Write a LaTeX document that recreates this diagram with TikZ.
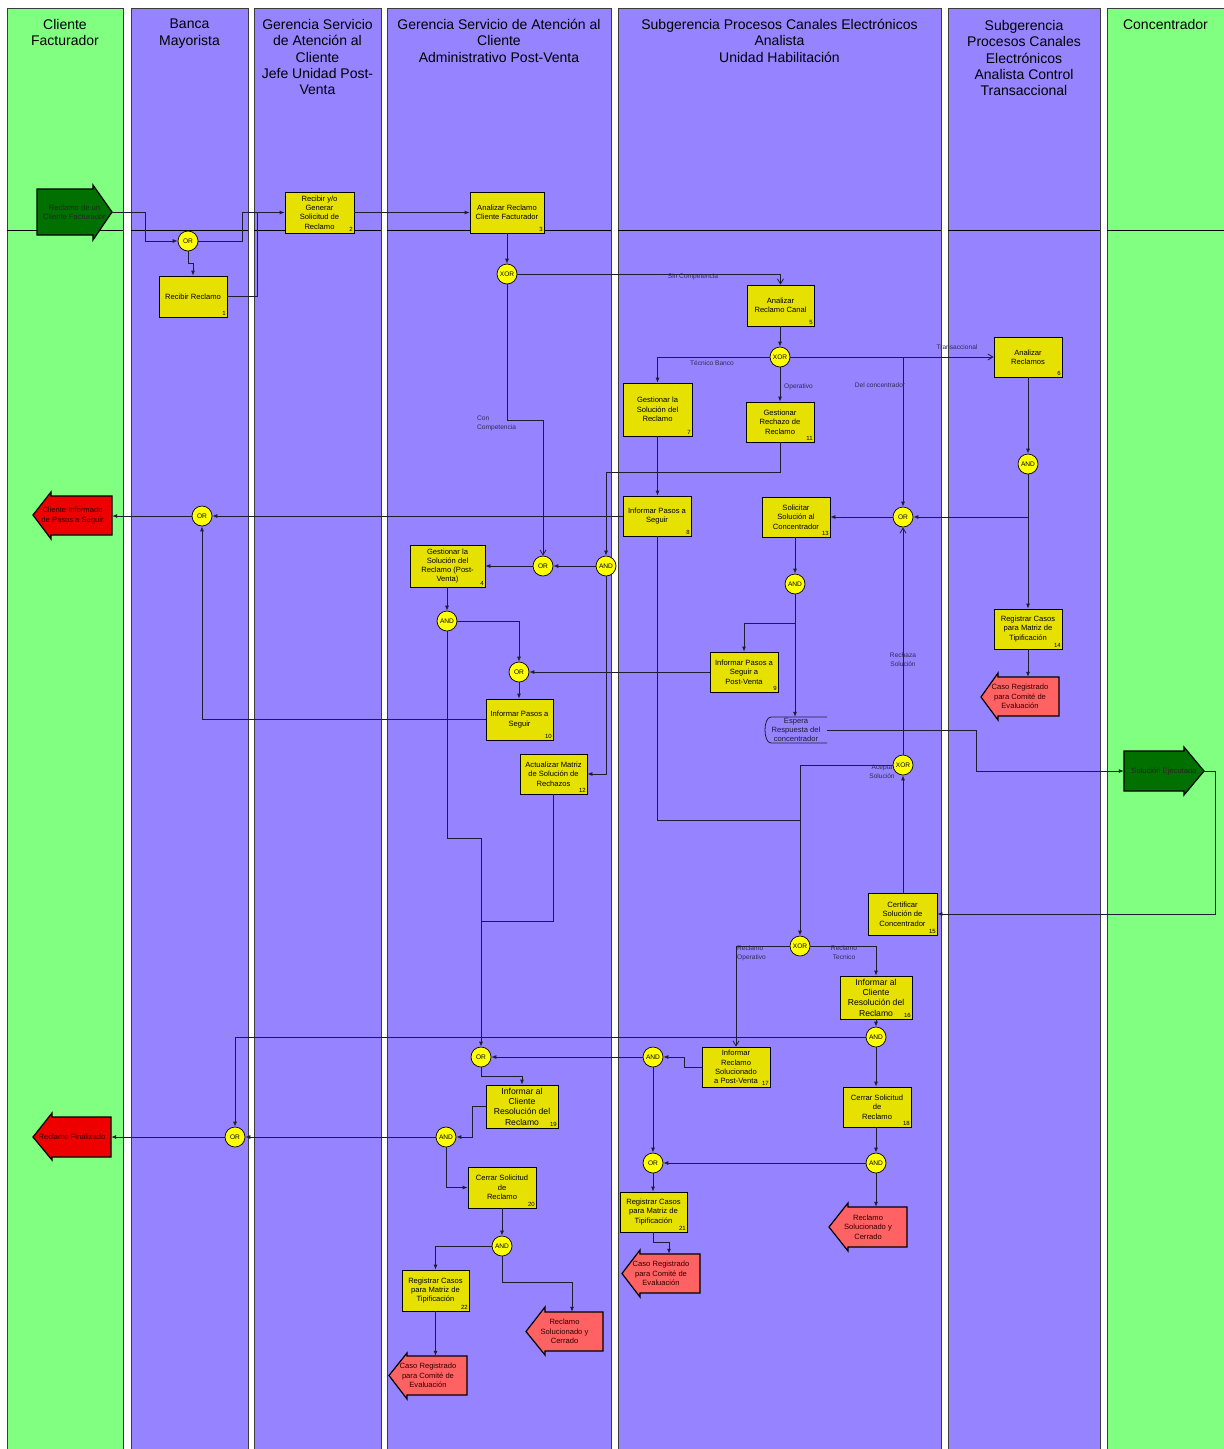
\documentclass[tikz,border=0pt]{standalone}
\usepackage{fontspec}
\setmainfont{Liberation Sans}
\usetikzlibrary{arrows.meta,calc}
\definecolor{laneG}{RGB}{128,255,128}
\definecolor{laneP}{RGB}{150,131,255}
\definecolor{taskY}{RGB}{230,225,0}
\definecolor{gwY}{RGB}{255,255,0}
\definecolor{startG}{RGB}{0,112,0}
\definecolor{endR}{RGB}{238,0,0}
\definecolor{endL}{RGB}{255,98,98}
\definecolor{lineC}{RGB}{30,30,50}
\definecolor{lblC}{RGB}{45,45,85}
\definecolor{borderC}{RGB}{60,60,60}
\definecolor{evText}{RGB}{50,0,0}
\newcommand{\myTF}{\fontsize{7.6}{9.3}\selectfont}
\newcommand{\myTFb}{\fontsize{8.6}{10.3}\selectfont}
\newcommand{\myLF}{\fontsize{6.6}{8.6}\selectfont}
\newcommand{\myGF}{\fontsize{6.6}{7}\selectfont}
\newcommand{\myNF}{\fontsize{6}{7}\selectfont}
\newcommand{\myHF}{\fontsize{14}{16.4}\selectfont}
\newcommand{\mkTask}[6]{\node[task, minimum width=#4pt, minimum height=#5pt] (b#1) at (#2,#3) {#6};
  \node[num] (n#1) at (b#1.south east) {#1};}
\begin{document}
\begin{tikzpicture}[x=1pt,y=-1pt,
  lanebox/.style={draw=borderC, line width=0.9pt},
  sepline/.style={draw=black, line width=0.8pt},
  hdr/.style={anchor=north, align=center, font=\myHF, inner sep=0pt},
  task/.style={draw=black, line width=0.8pt, fill=taskY, align=center, font=\myTF, inner sep=1pt},
  num/.style={anchor=south east, font=\myNF, inner sep=1.5pt},
  gw/.style={circle, draw=black, line width=0.7pt, fill=gwY, minimum size=20pt, inner sep=0pt, font=\myGF},
  arr/.style={draw=lineC, line width=0.8pt, -{Latex[length=5pt,width=4pt]}},
  oarr/.style={draw=lineC, line width=0.8pt, -{Straight Barb[length=5pt,width=6pt]}},
  ln/.style={draw=lineC, line width=0.8pt},
  lbl/.style={font=\myLF, text=lblC, inner sep=0pt, align=center},
  evshape/.style={draw=black, line width=1.2pt},
  evtxt/.style={inner sep=0pt, align=center, font=\myTF},
  annot/.style={inner sep=0pt, align=center, font=\myTF, text=lblC!60!black}
]
\useasboundingbox (0,0) rectangle (1224,1449);
\fill[white] (0,0) rectangle (1224,1449);

% lanes
\foreach \a/\b/\c in {7/123/laneG, 131/248/laneP, 254/381/laneP, 387/611/laneP, 618/941/laneP, 948/1100/laneP, 1107/1232/laneG}
  \draw[lanebox, fill=\c] (\a,8) rectangle (\b,1460);
\foreach \a/\b in {7/123, 131/248, 254/381, 387/611, 618/941, 948/1100, 1107/1232}
  \draw[sepline] (\a,230) -- (\b,230);

% headers
\node[hdr] (h1) at (65,19) {Cliente\\Facturador};
\node[hdr] (h2) at (189.5,19) {Banca\\Mayorista};
\node[hdr] (h3) at (317.5,19) {Gerencia Servicio\\de Atención al\\Cliente\\Jefe Unidad Post-\\Venta};
\node[hdr] (h4) at (499,19) {Gerencia Servicio de Atención al\\Cliente\\Administrativo Post-Venta};
\node[hdr] (h5) at (779.5,19) {Subgerencia Procesos Canales Electrónicos\\Analista\\Unidad Habilitación};
\node[hdr] (h6) at (1024,20) {Subgerencia\\Procesos Canales\\Electrónicos\\Analista Control\\Transaccional};
\node[hdr] (h7) at (1165.5,19) {Concentrador};

% events (shapes)
\draw[evshape, fill=startG] (37,189) -- (93,189) -- (93,185) -- (112,212) -- (93,240) -- (93,235) -- (37,235) -- cycle;
\node[evtxt, text=black!85, minimum width=75pt, minimum height=46pt] (es) at (74.5,212) {Reclamo de un\\Cliente Facturador};
\draw[evshape, fill=startG] (1124,751) -- (1184,751) -- (1184,747) -- (1204,771) -- (1184,795) -- (1184,791) -- (1124,791) -- cycle;
\node[evtxt, text=black!85, minimum width=80pt, minimum height=40pt] (esol) at (1164,771) {Solución Ejecutada};
\draw[evshape, fill=endR] (112,496) -- (51,496) -- (51,492) -- (33,515) -- (51,539) -- (51,535) -- (112,535) -- cycle;
\node[evtxt, text=evText, minimum width=79pt, minimum height=39pt] (ecli) at (72.5,515.5) {Cliente Informado\\de Pasos a Seguir};
\draw[evshape, fill=endR] (111,1117) -- (52,1117) -- (52,1113) -- (33,1137) -- (52,1160) -- (52,1157) -- (111,1157) -- cycle;
\node[evtxt, text=evText, minimum width=78pt, minimum height=40pt] (efin) at (72,1137) {Reclamo Finalizado};
\draw[evshape, fill=endL] (1059,677) -- (998,677) -- (998,673) -- (981,697) -- (998,720) -- (998,716) -- (1059,716) -- cycle;
\node[evtxt, text=evText, minimum width=78pt, minimum height=39pt] (ec14) at (1020,696.5) {Caso Registrado\\para Comité de\\Evaluación};
\draw[evshape, fill=endL] (907,1207) -- (848,1207) -- (848,1203) -- (829,1227) -- (848,1251) -- (848,1247) -- (907,1247) -- cycle;
\node[evtxt, text=evText, minimum width=78pt, minimum height=40pt] (es18) at (868,1227) {Reclamo\\Solucionado y\\Cerrado};
\draw[evshape, fill=endL] (700,1254) -- (640,1254) -- (640,1250) -- (622,1273.5) -- (640,1297) -- (640,1293) -- (700,1293) -- cycle;
\node[evtxt, text=evText, minimum width=78pt, minimum height=39pt] (ec21) at (661,1273.5) {Caso Registrado\\para Comité de\\Evaluación};
\draw[evshape, fill=endL] (467,1356) -- (407,1356) -- (407,1353) -- (389,1375.5) -- (407,1399) -- (407,1395) -- (467,1395) -- cycle;
\node[evtxt, text=evText, minimum width=78pt, minimum height=39pt] (ec22) at (428,1375.5) {Caso Registrado\\para Comité de\\Evaluación};
\draw[evshape, fill=endL] (603,1312) -- (545,1312) -- (545,1307) -- (526,1331.5) -- (545,1355) -- (545,1351) -- (603,1351) -- cycle;
\node[evtxt, text=evText, minimum width=77pt, minimum height=39pt] (es20) at (564.5,1331.5) {Reclamo\\Solucionado y\\Cerrado};

% tasks
\mkTask{1}{193}{296.5}{68}{41}{Recibir Reclamo}
\mkTask{2}{319.5}{212.5}{69}{41}{Recibir y/o\\Generar\\Solicitud de\\Reclamo}
\mkTask{3}{507}{212.5}{74}{41}{Analizar Reclamo\\Cliente Facturador}
\mkTask{4}{447.5}{566}{75}{42}{Gestionar la\\Solución del\\Reclamo (Post-\\Venta)}
\mkTask{5}{780.5}{305.5}{67}{41}{Analizar\\Reclamo Canal}
\mkTask{6}{1028}{357}{68}{40}{Analizar\\Reclamos}
\mkTask{7}{657.5}{409.5}{69}{53}{Gestionar la\\Solución del\\Reclamo}
\mkTask{8}{657}{516}{68}{40}{Informar Pasos a\\Seguir}
\mkTask{9}{744}{672}{68}{40}{Informar Pasos a\\Seguir a\\Post-Venta}
\mkTask{10}{519.5}{719.5}{67}{41}{Informar Pasos a\\Seguir}
\mkTask{11}{780}{422}{68}{40}{Gestionar\\Rechazo de\\Reclamo}
\mkTask{12}{553.5}{774}{67}{40}{Actualizar Matriz\\de Solución de\\Rechazos}
\mkTask{13}{796}{517}{68}{40}{Solicitar\\Solución al\\Concentrador}
\mkTask{14}{1028}{629}{68}{40}{Registrar Casos\\para Matriz de\\Tipificación}
\mkTask{15}{902.5}{914}{69}{42}{Certificar\\Solución de\\Concentrador}
\node[task, font=\myTFb, minimum width=72pt, minimum height=43pt] (b16) at (876,997.5) {Informar al\\Cliente\\Resolución del\\Reclamo};
\node[num] (n16) at (b16.south east) {16};
\mkTask{17}{736}{1067}{68}{40}{Informar\\Reclamo\\Solucionado\\a Post-Venta}
\mkTask{18}{877}{1107}{68}{40}{Cerrar Solicitud\\de\\Reclamo}
\node[task, font=\myTFb, minimum width=72pt, minimum height=43pt] (b19) at (522,1106.5) {Informar al\\Cliente\\Resolución del\\Reclamo};
\node[num] (n19) at (b19.south east) {19};
\mkTask{20}{502}{1187.5}{68}{41}{Cerrar Solicitud\\de\\Reclamo}
\mkTask{21}{653.5}{1212}{67}{40}{Registrar Casos\\para Matriz de\\Tipificación}
\mkTask{22}{435.5}{1290.5}{67}{41}{Registrar Casos\\para Matriz de\\Tipificación}

% annotation
\node[annot, minimum width=62pt, minimum height=26pt] (ann) at (796,730) {Espera\\Respuesta del\\concentrador};
\draw[ln] (827,717) -- (771,717) .. controls (763,717) and (763,743) .. (771,743) -- (827,743);

% gateways
\node[gw] (g1) at (188,241) {OR};
\node[gw] (gx1) at (507,274) {XOR};
\node[gw] (gx2) at (780,357) {XOR};
\node[gw] (ga6) at (1028,464) {AND};
\node[gw] (go3) at (903,517) {OR};
\node[gw] (goL) at (202,516) {OR};
\node[gw] (go2) at (543,566) {OR};
\node[gw] (ga4) at (606,566) {AND};
\node[gw] (ga13) at (795,584) {AND};
\node[gw] (ga4b) at (447,621) {AND};
\node[gw] (go10) at (519,672) {OR};
\node[gw] (gx3) at (903,765) {XOR};
\node[gw] (gx4) at (800,946) {XOR};
\node[gw] (ga16) at (876,1037) {AND};
\node[gw] (go19) at (481,1057) {OR};
\node[gw] (ga17) at (653,1057) {AND};
\node[gw] (gof) at (235,1137) {OR};
\node[gw] (ga19) at (446,1137) {AND};
\node[gw] (go21) at (653,1163) {OR};
\node[gw] (ga18) at (876,1163) {AND};
\node[gw] (ga20) at (502,1246) {AND};

% junction coordinates
\coordinate (m1) at (257,212.5);
\coordinate (j1) at (903,357);
\coordinate (m2) at (481,921);
\coordinate (m3) at (800,820);

% connectors
\draw[arr] (es.east) -- (145,212) |- (g1);
\draw[arr] (g1.south) -- (188,263) -| (b1.north);
\draw[arr] (g1.east) -- (242,241) |- (b2.west);
\draw[ln] (b1.east) -| (m1);
\draw[arr] (b2.east) -- (b3.west);
\draw[arr] (b3.south) -- (gx1.north);
\draw[oarr] (gx1.east) -| (b5.north);
\draw[oarr] (gx1.south) -- (507,420) -| (go2.north);
\draw[arr] (gx2.north |- b5.south) -- (gx2.north);
\draw[arr] (gx2.west) -| (b7.north);
\draw[arr] (gx2.south) -- (b11.north);
\draw[oarr] (gx2.east) -- (b6.west);
\draw[arr] (j1) -- (go3.north);
\draw[arr] (b6.south) -- (ga6.north);
\draw[arr] (ga6.south) |- (go3.east);
\draw[arr] (ga6.south) -- (b14.north);
\draw[arr] (go3.west) -- (b13.east);
\draw[arr] (b7.south) -- (b7.south |- b8.north);
\draw[arr] (b8.west) -- (goL.east);
\draw[arr] (goL.west) -- (goL.west -| ecli.east);
\draw[arr] (b11.south) -- (780,472) -| (ga4.north);
\draw[arr] (ga4.west) -- (go2.east);
\draw[arr] (go2.west) -- (b4.east);
\draw[arr] (ga4.south) |- (b12.east);
\draw[arr] (ga4b.north |- b4.south) -- (ga4b.north);
\draw[arr] (ga4b.east) -| (go10.north);
\draw[arr] (ga4b.south) -- (447,838) -| (go19.north);
\draw[ln] (b12.south) |- (m2);
\draw[arr] (b9.west) -- (go10.east);
\draw[arr] (go10.south) -- (go10.south |- b10.north);
\draw[arr] (b10.west) -| (goL.south);
\draw[arr] (ga13.north |- b13.south) -- (ga13.north);
\draw[arr] (ga13.south) -- (795,623) -| (b9.north);
\draw[arr] (ga13.south) -- (ga13.south |- ann.north);
\draw[arr] (ann.east) -- (976,730) |- (esol.west);
\draw[arr] (esol.east) -- (1215,771) |- (b15.east);
\draw[arr] (gx3.south |- b15.north) -- (gx3.south);
\draw[oarr] (gx3.north) -- (go3.south);
\draw[arr] (gx3.west) -| (gx4.north);
\draw[ln] (b8.south) |- (m3);
\draw[oarr] (gx4.west) -| (b17.north);
\draw[arr] (gx4.east) -| (b16.north);
\draw[arr] (b16.south) -- (ga16.north);
\draw[arr] (ga16.west) -| (gof.north);
\draw[arr] (ga16.south) -- (ga16.south |- b18.north);
\draw[arr] (b17.west) -- (684,1067) |- (ga17.east);
\draw[arr] (ga17.west) -- (go19.east);
\draw[arr] (ga17.south) -- (go21.north);
\draw[arr] (ga18.north |- b18.south) -- (ga18.north);
\draw[arr] (ga18.west) -- (go21.east);
\draw[arr] (ga18.south) -- (ga18.south |- es18.north);
\draw[arr] (go21.south) -- (go21.south |- b21.north);
\draw[arr] (b21.south) -- ++(0,10) -| ([xshift=8pt]ec21.north);
\draw[arr] (go19.south) -- (481,1076) -| (b19.north);
\draw[arr] (b19.west) -- (472,1106.5) |- (ga19.east);
\draw[arr] (ga19.west) -- (gof.east);
\draw[arr] (gof.west) -- (efin.east);
\draw[arr] (ga19.south) |- (b20.west);
\draw[arr] (b20.south) -- (ga20.north);
\draw[arr] (ga20.west) -| (b22.north);
\draw[arr] (ga20.south) -- (502,1282) -| ([xshift=7.5pt]es20.north);
\draw[arr] (b22.south) -- (b22.south |- ec22.north);
\draw[arr] (b14.south) -- (b14.south |- ec14.north);

% connector labels
\node[lbl] (l1) at (693,277) {Sin Competencia};
\node[lbl, anchor=west, align=left] (l2) at (477,423.5) {Con\\Competencia};
\node[lbl] (l3) at (712,363) {Técnico Banco};
\node[lbl, anchor=west] (l4) at (784,386.5) {Operativo};
\node[lbl] (l5) at (957,347) {Transaccional};
\node[lbl] (l6) at (880,385.5) {Del concentrador};
\node[lbl] (l7) at (903,659.5) {Rechaza\\Solución};
\node[lbl] (l8) at (882,772) {Acepta\\Solución};
\node[lbl, anchor=west, align=left] (l9) at (737,953) {Reclamo\\Operativo};
\node[lbl] (l10) at (844,952.5) {Reclamo\\Tecnico};
\end{tikzpicture}
\end{document}
